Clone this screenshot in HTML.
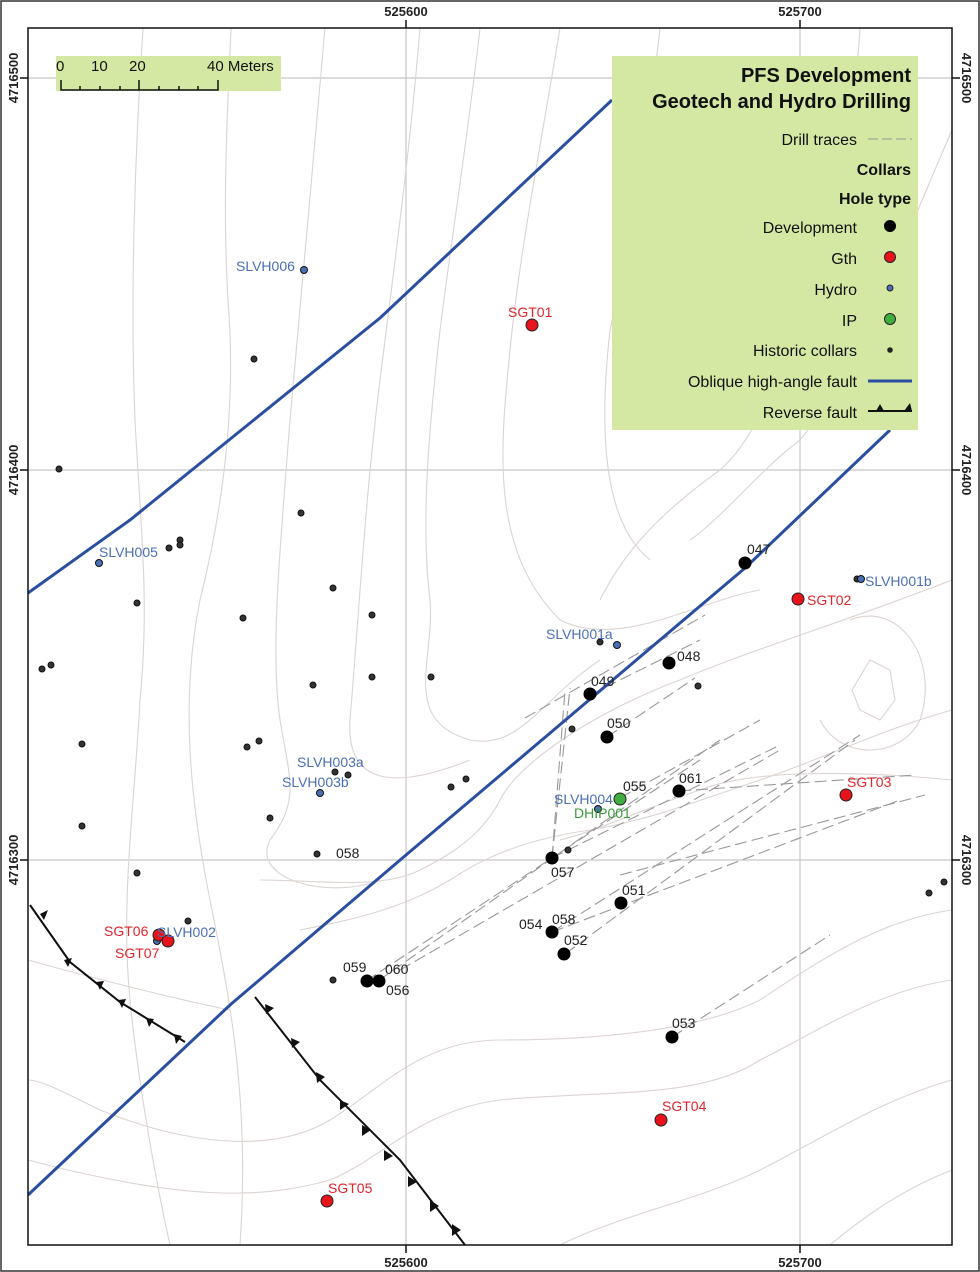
<!DOCTYPE html>
<html><head><meta charset="utf-8"><style>
body{margin:0;background:#fff}
svg{display:block;font-family:"Liberation Sans",sans-serif}
</style></head><body>
<svg width="980" height="1272" viewBox="0 0 980 1272" xmlns="http://www.w3.org/2000/svg">
<rect x="1" y="1" width="978" height="1270" fill="#fff" stroke="#333" stroke-width="1.5"/>
<g stroke="#c8c8c8" stroke-width="1.2">
<line x1="406" y1="28" x2="406" y2="1245"/><line x1="800" y1="28" x2="800" y2="1245"/>
<line x1="28" y1="78" x2="952" y2="78"/><line x1="28" y1="470" x2="952" y2="470"/><line x1="28" y1="860" x2="952" y2="860"/>
</g>
<g fill="none" stroke="#dcd4d1" stroke-width="1.1">
<path d="M143,28 C135,150 130,300 135,420 C140,520 150,600 140,700 C135,800 120,900 130,1000 C140,1100 160,1200 170,1245"/>
<path d="M231,28 C228,100 222,200 228,300 C236,400 225,500 200,600 C180,700 190,800 210,900 C230,1000 250,1100 240,1245"/>
<path d="M325,28 C315,150 300,300 290,420 C280,550 270,650 280,720 C290,780 300,800 270,840 C250,880 330,900 380,880"/>
<path d="M420,28 C410,150 395,260 380,380 C365,500 360,600 350,720 C345,800 420,780 470,760"/>
<path d="M480,28 C470,120 450,250 440,330 C430,420 420,520 430,600 C435,660 400,720 470,740 C520,750 540,700 600,660"/>
<path d="M560,28 C540,150 520,250 510,350 C500,450 490,550 560,620 C620,650 700,600 760,590"/>
<path d="M660,28 C650,120 630,240 610,330 C600,420 600,520 650,560"/>
<path d="M860,28 C850,200 780,420 720,470 C650,520 620,560 600,600"/>
<path d="M952,130 C900,250 850,380 800,440 C760,470 720,520 690,540"/>
<path d="M952,580 C850,620 750,650 680,680 C600,710 520,760 500,800 C480,840 440,860 420,870 C380,890 320,880 260,880"/>
<path d="M952,710 C880,730 820,760 760,780 C700,800 650,820 590,830 C520,840 480,860 450,880 C400,910 350,920 300,930"/>
<path d="M952,780 C850,770 750,770 700,790 C640,810 600,830 560,840"/>
<path d="M952,910 C880,920 820,960 760,1000 C700,1030 600,1040 500,1040 C420,1040 380,1090 330,1120 C280,1150 200,1150 100,1110 C60,1090 40,1080 28,1080"/>
<path d="M952,980 C880,990 820,1030 760,1060 C700,1100 600,1090 500,1100 C420,1110 380,1160 330,1180 C260,1200 180,1200 28,1160"/>
<path d="M952,1080 C880,1100 820,1140 760,1170 C700,1200 620,1215 560,1245"/>
<path d="M952,1170 C900,1190 860,1220 830,1245"/>
<path d="M28,960 C100,980 180,1000 230,1010"/>
<path d="M870,660 L890,670 L895,700 L880,720 L860,710 L852,690 Z"/>
<path d="M850,620 C900,600 940,660 920,720 C900,760 840,760 820,720"/>
</g>
<g fill="none" stroke="#999" stroke-width="1.1" stroke-dasharray="12,5">
<path d="M525,718 L705,615"/><path d="M590,695 L700,640"/><path d="M607,737 L695,678"/>
<path d="M552,858 L570,688"/><path d="M552,858 L565,690"/>
<path d="M378,981 L720,740"/><path d="M366,981 L700,760"/>
<path d="M400,970 L780,750"/><path d="M552,932 L860,735"/><path d="M565,954 L855,740"/>
<path d="M620,875 L925,795"/><path d="M552,932 L900,800"/><path d="M679,791 L915,775"/>
<path d="M672,1037 L830,935"/><path d="M620,798 L760,720"/><path d="M552,858 L778,746"/>
</g>
<g fill="none" stroke="#2b4fa0" stroke-width="3">
<path d="M28,593 L130,520 L380,318 L612,100"/>
<path d="M28,1195 L230,1005 L406,855 L745,568 L890,430"/>
</g>
<g fill="none" stroke="#111" stroke-width="2"><path d="M30,905 L70,962 L120,1002 L185,1042"/><path d="M255,997 L320,1080 L400,1160 L465,1245"/></g>
<g fill="#111">
<polygon points="40,914 48,910 44,920"/><polygon points="64,960 72,958 68,967"/><polygon points="96,982 104,981 100,990"/><polygon points="118,1000 126,999 122,1008"/><polygon points="146,1018 154,1019 149,1027"/><polygon points="174,1034 182,1036 176,1044"/>
<polygon points="265,1004 274,1008 266,1014"/><polygon points="291,1038 300,1042 292,1048"/><polygon points="316,1072 325,1077 317,1083"/><polygon points="340,1100 349,1104 340,1110"/><polygon points="362,1125 371,1130 362,1136"/><polygon points="384,1150 393,1156 384,1161"/><polygon points="408,1176 417,1182 408,1187"/><polygon points="430,1200 439,1206 430,1212"/><polygon points="452,1224 461,1230 452,1236"/>
</g>
<rect x="28" y="28" width="924" height="1217" fill="none" stroke="#111" stroke-width="1.5"/>
<g stroke="#111" stroke-width="1.5"><line x1="406" y1="20" x2="406" y2="28"/><line x1="800" y1="20" x2="800" y2="28"/><line x1="406" y1="1245" x2="406" y2="1253"/><line x1="800" y1="1245" x2="800" y2="1253"/><line x1="20" y1="78" x2="28" y2="78"/><line x1="20" y1="470" x2="28" y2="470"/><line x1="20" y1="860" x2="28" y2="860"/><line x1="952" y1="78" x2="960" y2="78"/><line x1="952" y1="470" x2="960" y2="470"/><line x1="952" y1="860" x2="960" y2="860"/></g>
<g font-size="13" font-weight="bold" fill="#222" text-anchor="middle">
<text x="406" y="16">525600</text><text x="800" y="16">525700</text>
<text x="406" y="1267">525600</text><text x="800" y="1267">525700</text>
<text transform="translate(14,78) rotate(-90)" dy="4">4716500</text>
<text transform="translate(14,470) rotate(-90)" dy="4">4716400</text>
<text transform="translate(14,860) rotate(-90)" dy="4">4716300</text>
<text transform="translate(966,78) rotate(90)" dy="4">4716500</text>
<text transform="translate(966,470) rotate(90)" dy="4">4716400</text>
<text transform="translate(966,860) rotate(90)" dy="4">4716300</text>
</g>
<rect x="56" y="56" width="225" height="35" fill="#d4e8a4"/>
<g fill="none" stroke="#111" stroke-width="1.5"><path d="M61,80 L61,90 L218,90 L218,80"/><path d="M80,86v4M100,86v4M120,86v4M139,80v10M159,86v4M179,86v4M198,86v4"/></g>
<g font-size="15" fill="#111"><text x="56" y="71">0</text><text x="91" y="71">10</text><text x="129" y="71">20</text><text x="207" y="71">40 Meters</text></g>
<rect x="612" y="56" width="306" height="374" fill="#d4e8a4"/>
<g fill="#111" text-anchor="end" font-size="16">
<text x="911" y="82" font-size="20" font-weight="bold">PFS Development</text>
<text x="911" y="108" font-size="20" font-weight="bold">Geotech and Hydro Drilling</text>
<text x="857" y="145">Drill traces</text>
<text x="911" y="175" font-weight="bold">Collars</text>
<text x="911" y="204" font-weight="bold">Hole type</text>
<text x="857" y="233">Development</text>
<text x="857" y="264">Gth</text>
<text x="857" y="295">Hydro</text>
<text x="857" y="326">IP</text>
<text x="857" y="356">Historic collars</text>
<text x="857" y="387">Oblique high-angle fault</text>
<text x="857" y="418">Reverse fault</text>
</g>
<line x1="868" y1="139" x2="912" y2="139" stroke="#999" stroke-dasharray="10,4"/>
<circle cx="890" cy="226" r="6" fill="#000"/>
<circle cx="890" cy="257" r="5.5" fill="#e8141c" stroke="#222"/>
<circle cx="890" cy="288" r="3" fill="#4a6fb5" stroke="#222"/>
<circle cx="890" cy="319" r="5.5" fill="#3fae3f" stroke="#222"/>
<circle cx="890" cy="350" r="2.8" fill="#222"/>
<line x1="868" y1="381" x2="912" y2="381" stroke="#2b4fa0" stroke-width="3"/>
<path d="M868,411 L912,411" stroke="#111" stroke-width="2"/><polygon points="876,411 884,411 880,404" fill="#111"/><polygon points="904,411 912,411 910,403" fill="#111"/>
<g fill="#333" stroke="#111" stroke-width="1">
<circle cx="254" cy="359" r="3"/><circle cx="59" cy="469" r="3"/><circle cx="301" cy="513" r="3"/><circle cx="169" cy="548" r="3"/><circle cx="180" cy="540" r="3"/><circle cx="180" cy="545" r="3"/><circle cx="137" cy="603" r="3"/><circle cx="333" cy="588" r="3"/><circle cx="243" cy="618" r="3"/><circle cx="372" cy="615" r="3"/><circle cx="42" cy="669" r="3"/><circle cx="51" cy="665" r="3"/><circle cx="313" cy="685" r="3"/><circle cx="372" cy="677" r="3"/><circle cx="431" cy="677" r="3"/><circle cx="82" cy="744" r="3"/><circle cx="247" cy="747" r="3"/><circle cx="259" cy="741" r="3"/><circle cx="335" cy="772" r="3"/><circle cx="348" cy="775" r="3"/><circle cx="451" cy="787" r="3"/><circle cx="466" cy="779" r="3"/><circle cx="82" cy="826" r="3"/><circle cx="270" cy="818" r="3"/><circle cx="317" cy="854" r="3"/><circle cx="137" cy="873" r="3"/><circle cx="188" cy="921" r="3"/><circle cx="333" cy="980" r="3"/><circle cx="600" cy="642" r="3"/><circle cx="698" cy="686" r="3"/><circle cx="572" cy="729" r="3"/><circle cx="568" cy="850" r="3"/><circle cx="929" cy="893" r="3"/><circle cx="944" cy="882" r="3"/><circle cx="857" cy="579" r="3"/>
</g>
<g fill="#4a6fb5" stroke="#111" stroke-width="1">
<circle cx="304" cy="270" r="3.5"/><circle cx="99" cy="563" r="3.5"/><circle cx="617" cy="645" r="3.5"/><circle cx="320" cy="793" r="3.5"/><circle cx="598" cy="809" r="3.5"/><circle cx="861" cy="579" r="3.5"/><circle cx="157" cy="941" r="3.5"/>
</g>
<g fill="#000">
<circle cx="745" cy="563" r="6.5"/><circle cx="669" cy="663" r="6.5"/><circle cx="590" cy="694" r="6.5"/><circle cx="607" cy="737" r="6.5"/><circle cx="679" cy="791" r="6.5"/><circle cx="552" cy="858" r="6.5"/><circle cx="621" cy="903" r="6.5"/><circle cx="552" cy="932" r="6.5"/><circle cx="564" cy="954" r="6.5"/><circle cx="367" cy="981" r="6.5"/><circle cx="379" cy="981" r="6.5"/><circle cx="672" cy="1037" r="6.5"/>
</g>
<g fill="#e8141c" stroke="#222" stroke-width="1">
<circle cx="532" cy="325" r="6"/><circle cx="798" cy="599" r="6"/><circle cx="846" cy="795" r="6"/><circle cx="661" cy="1120" r="6"/><circle cx="327" cy="1201" r="6"/><circle cx="159" cy="935" r="6"/><circle cx="168" cy="941" r="6"/>
</g>
<circle cx="620" cy="799" r="6" fill="#3fae3f" stroke="#222"/>
<g font-size="14">
<g fill="#4a6fb5"><text x="236" y="271">SLVH006</text><text x="99" y="557">SLVH005</text><text x="546" y="639">SLVH001a</text><text x="865" y="586">SLVH001b</text><text x="297" y="767">SLVH003a</text><text x="282" y="787">SLVH003b</text><text x="554" y="804">SLVH004</text><text x="157" y="937">SLVH002</text></g>
<g fill="#e0242c"><text x="508" y="317">SGT01</text><text x="807" y="605">SGT02</text><text x="847" y="787">SGT03</text><text x="662" y="1111">SGT04</text><text x="328" y="1193">SGT05</text><text x="104" y="936">SGT06</text><text x="115" y="958">SGT07</text></g>
<text x="574" y="818" fill="#3a9a3a">DHIP001</text>
<g fill="#222"><text x="747" y="554">047</text><text x="677" y="661">048</text><text x="591" y="686">049</text><text x="607" y="728">050</text><text x="623" y="791">055</text><text x="679" y="783">061</text><text x="551" y="877">057</text><text x="622" y="895">051</text><text x="519" y="929">054</text><text x="552" y="924">058</text><text x="564" y="945">052</text><text x="343" y="972">059</text><text x="385" y="974">060</text><text x="386" y="995">056</text><text x="672" y="1028">053</text><text x="336" y="858">058</text></g>
</g>
</svg>
</body></html>
